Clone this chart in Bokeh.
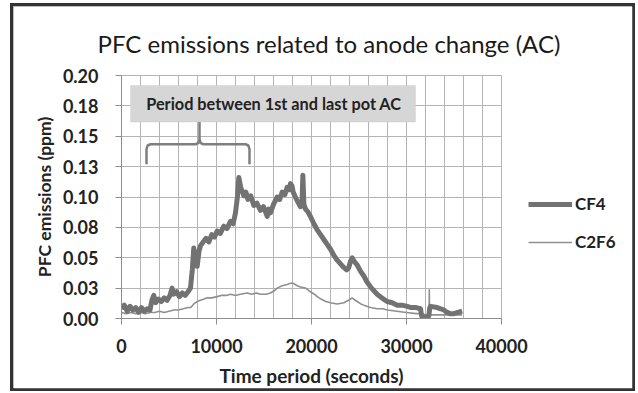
from bokeh.plotting import figure
from bokeh.models import (FixedTicker, Label, BoxAnnotation, Legend, LegendItem, Range1d)
from bokeh.embed import file_html
from bokeh.resources import INLINE

# ---------------- data ----------------
cf4_time = [0, 300, 600, 900, 1200, 1500, 1800, 2100, 2400, 2700, 3000, 3200, 3400, 3600,
            3900, 4200, 4500, 4800, 5100, 5330, 5500, 5800, 6100, 6400, 6700, 7000, 7260,
            7450, 7610, 7800, 7970, 8150, 8320, 8600, 8900, 9200, 9500, 9800, 10070, 10400,
            10770, 11100, 11470, 11750, 12000, 12200, 12350, 12550, 12880, 13100, 13300,
            13600, 13930, 14250, 14630, 14950, 15340, 15500, 15680, 16000, 16390, 16650,
            16910, 17200, 17440, 17650, 17790, 17950, 18070, 18300, 18490, 18700, 18840,
            19000, 19090, 19200, 19370, 19600, 19890, 20250, 20600, 20950, 21300, 21650,
            22000, 22350, 22700, 23050, 23400, 23700, 23930, 24100, 24280, 24500, 24810,
            25150, 25510, 25850, 26210, 26550, 26910, 27400, 27960, 28500, 29020, 29550,
            30070, 30500, 31000, 31470, 31600, 32000, 32350, 32450, 32530, 33230, 33600,
            33930, 34280, 34600, 34980, 35400, 35860]
cf4_ppm = [0.008, 0.011, 0.006, 0.010, 0.007, 0.009, 0.005, 0.009, 0.006, 0.008, 0.007, 0.015,
           0.019, 0.013, 0.016, 0.014, 0.017, 0.015, 0.019, 0.025, 0.020, 0.022, 0.018, 0.021,
           0.019, 0.022, 0.025, 0.040, 0.058, 0.048, 0.043, 0.055, 0.060, 0.063, 0.066, 0.063,
           0.069, 0.067, 0.072, 0.070, 0.076, 0.074, 0.080, 0.078, 0.087, 0.100, 0.116, 0.108,
           0.101, 0.104, 0.098, 0.101, 0.093, 0.095, 0.089, 0.092, 0.084, 0.090, 0.087, 0.094,
           0.100, 0.098, 0.104, 0.102, 0.108, 0.106, 0.111, 0.109, 0.104, 0.100, 0.097, 0.094,
           0.092, 0.095, 0.118, 0.094, 0.090, 0.088, 0.084, 0.078, 0.073, 0.069, 0.065, 0.061,
           0.057, 0.052, 0.048, 0.045, 0.042, 0.040, 0.042, 0.047, 0.050, 0.047, 0.044, 0.039,
           0.035, 0.030, 0.026, 0.023, 0.020, 0.017, 0.014, 0.013, 0.011, 0.011, 0.010, 0.009,
           0.009, 0.008, 0.002, 0.001, 0.002, 0.009, 0.010, 0.009, 0.008, 0.007, 0.005, 0.004,
           0.004, 0.005, 0.006]

c2f6_time = [0, 500, 1000, 1500, 2000, 2500, 3000, 3500, 4000, 4500, 5000, 5500, 6000, 6500,
             7000, 7300, 7610, 7970, 8300, 8700, 9020, 9500, 10070, 10500, 11000, 11500,
             12000, 12500, 13230, 13700, 14200, 14630, 15200, 15680, 16100, 16390, 16900,
             17440, 17790, 18070, 18500, 18840, 19370, 19890, 20300, 20600, 21000, 21500,
             22000, 22700, 23400, 23900, 24280, 24600, 24810, 25200, 25510, 26210, 26910,
             27500, 28000, 29000, 30000, 31000, 31470, 32000, 32380, 32400, 32420, 33000,
             34000, 35000, 35860]
c2f6_ppm = [0.005, 0.004, 0.005, 0.004, 0.005, 0.004, 0.005, 0.005, 0.006, 0.005, 0.006, 0.007,
            0.007, 0.008, 0.009, 0.009, 0.012, 0.014, 0.015, 0.016, 0.017, 0.017, 0.018, 0.019,
            0.019, 0.020, 0.019, 0.020, 0.021, 0.020, 0.021, 0.020, 0.020, 0.021, 0.023, 0.025,
            0.027, 0.028, 0.029, 0.029, 0.027, 0.026, 0.025, 0.022, 0.020, 0.018, 0.016, 0.014,
            0.013, 0.012, 0.013, 0.015, 0.017, 0.015, 0.014, 0.012, 0.011, 0.009, 0.008, 0.008,
            0.007, 0.006, 0.005, 0.004, 0.004, 0.003, 0.003, 0.024, 0.003, 0.003, 0.003, 0.003,
            0.003]

x_ticks = [0, 10000, 20000, 30000, 40000]
x_minor_ticks = list(range(0, 40001, 2000))
y_ticks = [0, 0.025, 0.05, 0.075, 0.1, 0.125, 0.15, 0.175, 0.2]
y_tick_labels = ["0.00", "0.03", "0.05", "0.08", "0.10", "0.13", "0.15", "0.18", "0.20"]

title_text = "PFC emissions related to anode change (AC)"
x_label = "Time period (seconds)"
y_label = "PFC emissions (ppm)"
note_text = "Period between 1st and last pot AC"

# ---------------- figure ----------------
FONT = "Lato"
TXT = "#222222"
GRID = "#b4b4b4"

p = figure(frame_width=380, frame_height=243,
           min_border_left=108, min_border_right=131, min_border_top=69, min_border_bottom=70,
           x_range=Range1d(0, 40000), y_range=Range1d(0, 0.2),
           output_backend="svg", toolbar_location=None,
           background_fill_color="white", border_fill_color="white",
           styles={"margin-left": "13px", "margin-top": "6px",
                   "width": "619px", "max-width": "619px", "height": "382px",
                   "box-shadow": "0 0 0 3px #333333",
                   "outline": "2px solid #a8a8a8", "outline-offset": "-2px"})
p.outline_line_color = GRID

# title
p.title.text = title_text
p.title.align = "left"
p.title.offset = -24
p.title.standoff = 36
p.title.text_font = FONT
p.title.text_font_style = "normal"
p.title.text_font_size = "24px"
p.title.text_color = "#1a1a1a"

# axes
p.xaxis.ticker = FixedTicker(ticks=x_ticks, minor_ticks=x_minor_ticks)
p.yaxis.ticker = FixedTicker(ticks=y_ticks)
p.yaxis.major_label_overrides = {t: s for t, s in zip(y_ticks, y_tick_labels)}
for ax in (p.xaxis[0], p.yaxis[0]):
    ax.axis_line_color = "#8c8c8c"
    ax.major_tick_line_color = "#8c8c8c"
    ax.major_tick_in = 0
    ax.major_tick_out = 6
    ax.minor_tick_line_color = None
    ax.major_label_text_font = FONT
    ax.major_label_text_font_style = "bold"
    ax.major_label_text_font_size = "18px"
    ax.major_label_text_color = TXT
    ax.axis_label_text_font = FONT
    ax.axis_label_text_font_style = "bold"
    ax.axis_label_text_color = TXT
p.xaxis.axis_label = x_label
p.yaxis.axis_label = y_label
p.xaxis.axis_label_text_font_size = "19px"
p.yaxis.axis_label_text_font_size = "17.5px"
p.xaxis.major_label_standoff = 14
p.yaxis.major_label_standoff = 17
p.xaxis.axis_label_standoff = 8
p.yaxis.axis_label_standoff = 5

# grid
p.xgrid.ticker = FixedTicker(ticks=x_ticks, minor_ticks=x_minor_ticks)
p.ygrid.ticker = FixedTicker(ticks=y_ticks)
p.xgrid.grid_line_color = GRID
p.xgrid.minor_grid_line_color = GRID
p.ygrid.grid_line_color = GRID

# series
r_c2f6 = p.line(c2f6_time, c2f6_ppm, line_color="#8f8f8f", line_width=1.6)
r_cf4 = p.line(cf4_time, cf4_ppm, line_color="#727272", line_width=5, line_join="round")

# annotation box
box_left, box_right, box_bottom, box_top = 950, 30950, 0.1617, 0.1918
p.add_layout(BoxAnnotation(left=box_left, right=box_right, bottom=box_bottom, top=box_top,
                           fill_color="#d6d6d6", fill_alpha=1,
                           line_color="#c2c2c2", line_width=1))
p.add_layout(Label(x=2600, y=(box_bottom + box_top) / 2, text=note_text,
                   text_font=FONT, text_font_style="bold", text_font_size="16.3px",
                   text_color=TXT, text_baseline="middle", text_align="left"))

# curly brace (decoration)
bl, bc, br = 2632, 8211, 13474      # x of left end, cusp, right end
y_end, y_bar, y_tip = 0.1270, 0.1434, 0.1617
dx, dy = 420, 0.0040
left_half = ([bl, bl, bl + dx * 0.3, bl + dx, bc - dx, bc - dx * 0.3, bc, bc],
             [y_end, y_bar - dy, y_bar - dy * 0.25, y_bar, y_bar, y_bar + dy * 0.25, y_bar + dy, y_tip])
right_half = ([br, br, br - dx * 0.3, br - dx, bc + dx, bc + dx * 0.3, bc],
              [y_end, y_bar - dy, y_bar - dy * 0.25, y_bar, y_bar, y_bar + dy * 0.25, y_bar + dy])
p.multi_line([left_half[0], right_half[0]], [left_half[1], right_half[1]],
             line_color="#7f7f7f", line_width=2.5, line_join="round")

# legend (right side panel)
legend = Legend(items=[LegendItem(label="CF4", renderers=[r_cf4]),
                       LegendItem(label="C2F6", renderers=[r_c2f6])],
                location=(27, 66), orientation="vertical",
                glyph_width=44, glyph_height=20, label_height=20, spacing=17,
                label_standoff=3, padding=0, margin=0,
                border_line_color=None, background_fill_alpha=0,
                label_text_font=FONT, label_text_font_style="bold",
                label_text_font_size="17px", label_text_color=TXT)
p.add_layout(legend, "right")

open("out.html", "w").write(file_html(p, INLINE))
